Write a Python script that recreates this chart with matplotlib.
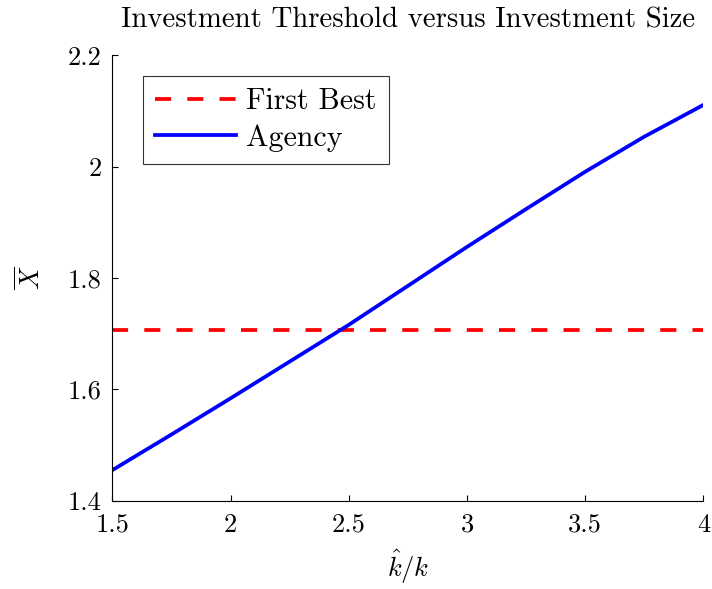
import matplotlib
matplotlib.use("Agg")
import matplotlib.pyplot as plt

plt.rcParams["font.family"] = "serif"
plt.rcParams["font.serif"] = ["cmr10", "DejaVu Serif"]
plt.rcParams["mathtext.fontset"] = "cm"
plt.rcParams["axes.unicode_minus"] = False

# dados
k_ratio = [1.5, 1.75, 2.0, 2.25, 2.5, 2.75, 3.0, 3.25, 3.5, 3.75, 4.0]
x_agency = [1.455, 1.519, 1.584, 1.650, 1.716, 1.786, 1.856, 1.924, 1.991, 2.054, 2.111]
x_first_best = [1.7071] * len(k_ratio)

x_ticks = [1.5, 2, 2.5, 3, 3.5, 4]
x_tick_labels = ["1.5", "2", "2.5", "3", "3.5", "4"]
y_ticks = [1.4, 1.6, 1.8, 2.0, 2.2]
y_tick_labels = ["1.4", "1.6", "1.8", "2", "2.2"]

fig = plt.figure(figsize=(7.12, 5.89), dpi=100)
ax = fig.add_axes([0.158, 0.150, 0.830, 0.756])

ax.plot(k_ratio, x_first_best, color="#ff0000", lw=2.7, linestyle=(0, (4.3, 4.3)), label="First Best")
ax.plot(k_ratio, x_agency, color="#0000ff", lw=2.7, label="Agency")

ax.set_xlim(1.5, 4)
ax.set_ylim(1.4, 2.2)
ax.set_xticks(x_ticks, x_tick_labels)
ax.set_yticks(y_ticks, y_tick_labels)
ax.tick_params(direction="in", length=4, width=0.8, labelsize=19)
ax.tick_params(axis="x", pad=9)
ax.tick_params(axis="y", pad=8)
for lado in ["top", "right"]:
    ax.spines[lado].set_visible(False)
for lado in ["left", "bottom"]:
    ax.spines[lado].set_linewidth(0.8)

ax.set_xlabel(r"$\hat{k}/k$", fontsize=19, labelpad=8)
ax.set_ylabel(r"$\overline{X}$", fontsize=19, labelpad=16)
ax.set_title("Investment Threshold versus Investment Size", fontsize=20.8, pad=20)

leg = ax.legend(loc="upper left", bbox_to_anchor=(0.052, 0.954), borderaxespad=0,
                fontsize=21.5, handlelength=2.7, handletextpad=0.35, borderpad=0.4,
                labelspacing=0.3, frameon=True, fancybox=False)
leg.get_frame().set_edgecolor("black")
leg.get_frame().set_linewidth(0.8)

fig.savefig("out.png", dpi=100)
